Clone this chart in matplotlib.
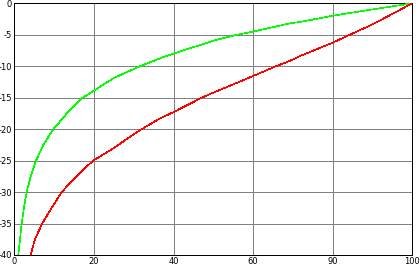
import matplotlib
matplotlib.use("Agg")
import matplotlib.pyplot as plt

# Data
green_x = [1.0, 1.43, 1.85, 2.44, 3.1, 4.1, 5.45, 7.3, 9.8, 13.2, 17.2, 20, 24.9, 31.6,
           36.6, 40, 50, 55.9, 60, 69.3, 71.8, 80, 90.2, 100]
green_y = [-40, -37.5, -35, -32.5, -30, -27.5, -25, -22.5, -20, -17.5, -15, -13.9, -11.9, -10,
           -8.75, -8.0, -5.95, -5, -4.5, -3.18, -2.97, -1.97, -0.95, 0]

red_x = [4.1, 5.2, 7.0, 9.4, 11.9, 15.6, 19.8, 24.9, 28.2, 32, 36.6, 40, 47.1, 50, 60,
         65.75, 69.3, 71.8, 80, 84.3, 90.2, 100]
red_y = [-40, -37.5, -35, -32.5, -30, -27.5, -25, -23.05, -21.6, -20, -18.3, -17.3, -15, -14.2,
         -11.56, -10, -9.13, -8.38, -6.26, -5, -3.29, 0]

x_ticks = [0, 20, 40, 60, 80, 100]
x_tick_labels = ["0", "20", "40", "60", "90", "100"]
y_ticks = [0, -5, -10, -15, -20, -25, -30, -35, -40]
y_tick_labels = ["0", "-5", "-10", "-15", "-20", "-25", "-30", "-35", "-40"]

LW = 0.72

fig = plt.figure(figsize=(4.2, 2.67), dpi=100)
ax = fig.add_axes([14.3 / 420, 1 - 255 / 267, (412.3 - 14.3) / 420, (255 - 3.3) / 267])

ax.plot(green_x, green_y, color="#00ff00", lw=0.45, zorder=3, antialiased=False)
ax.plot(red_x, red_y, color="#ff0000", lw=0.45, zorder=3, antialiased=False)

ax.set_xlim(0, 100)
ax.set_ylim(-40, 0)
ax.set_xticks(x_ticks)
ax.set_xticklabels(x_tick_labels)
ax.set_yticks(y_ticks)
ax.set_yticklabels(y_tick_labels)
ax.tick_params(length=0, labelsize=6, pad=1.5)
ax.grid(True, color="#808080", lw=LW, antialiased=False)
ax.set_axisbelow(True)
for s in ax.spines.values():
    s.set_color("black")
    s.set_linewidth(LW)
    s.set_antialiased(False)

fig.savefig("out.png", dpi=100)
